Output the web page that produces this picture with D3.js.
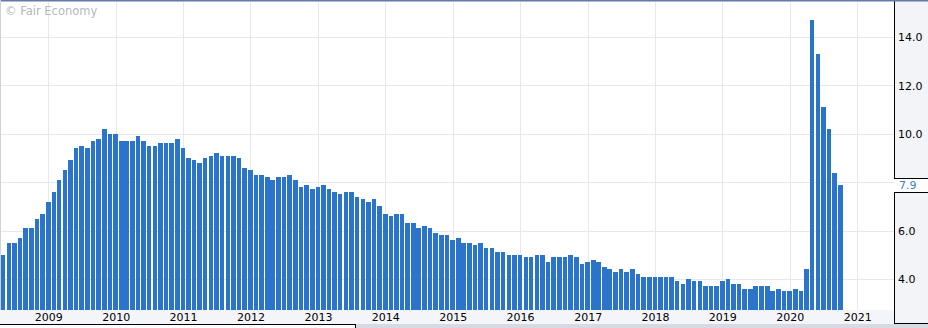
<!DOCTYPE html>
<html>
<head>
<meta charset="utf-8">
<script src="https://cdn.jsdelivr.net/npm/d3@7"></script>
<style>
  body { margin: 0; background: #fff; }
  svg { display: block; font-family: "DejaVu Sans", Verdana, sans-serif; }
</style>
</head>
<body>
<div id="chart"></div>
<script>
// first release month of the series (April 2008 figure, released in May 2008)
const firstRelease = "2008-05"
// unemployment rate, one bar per monthly release
const rates = [
  5.0, 5.5, 5.5, 5.7, 6.1, 6.1, 6.5, 6.7, 7.2,
  7.6, 8.1, 8.5, 8.9, 9.4, 9.5, 9.4, 9.7, 9.8, 10.2, 10.0, 10.0,
  9.7, 9.7, 9.7, 9.9, 9.7, 9.5, 9.5, 9.6, 9.6, 9.6, 9.8, 9.4,
  9.0, 8.9, 8.8, 9.0, 9.1, 9.2, 9.1, 9.1, 9.1, 9.0, 8.6, 8.5,
  8.3, 8.3, 8.2, 8.1, 8.2, 8.2, 8.3, 8.1, 7.8, 7.9, 7.7, 7.8,
  7.9, 7.7, 7.6, 7.5, 7.6, 7.6, 7.4, 7.3, 7.2, 7.3, 7.0, 6.7,
  6.6, 6.7, 6.7, 6.3, 6.3, 6.1, 6.2, 6.1, 5.9, 5.8, 5.8, 5.6,
  5.7, 5.5, 5.5, 5.4, 5.5, 5.3, 5.3, 5.1, 5.1, 5.0, 5.0, 5.0,
  4.9, 4.9, 5.0, 5.0, 4.7, 4.9, 4.9, 4.9, 5.0, 4.9, 4.6, 4.7,
  4.8, 4.7, 4.5, 4.4, 4.3, 4.4, 4.3, 4.4, 4.2, 4.1, 4.1, 4.1,
  4.1, 4.1, 4.1, 3.9, 3.8, 4.0, 3.9, 3.9, 3.7, 3.7, 3.7, 3.9,
  4.0, 3.8, 3.8, 3.6, 3.6, 3.7, 3.7, 3.7, 3.5, 3.6, 3.5, 3.5,
  3.6, 3.5, 4.4, 14.7, 13.3, 11.1, 10.2, 8.4, 7.9
]
const yearTicks = [2009, 2010, 2011, 2012, 2013, 2014, 2015, 2016, 2017, 2018, 2019, 2020, 2021]
const yTicks = [4, 6, 8, 10, 12, 14]

const width = 928, height = 328
const plotRight = 894, plotTop = 2, plotBottom = 310
const barColor = "#2b74cc"
const gridColor = "#e6e8f0"

const start = d3.timeParse("%Y-%m")(firstRelease)
const data = rates.map((v, i) => ({ date: d3.timeMonth.offset(start, i), value: v }))
const last = data[data.length - 1]

const x = d3.scaleTime()
  .domain([new Date(2009, 0, 1), new Date(2021, 0, 1)])
  .range([48.3, 857.3])
const y = d3.scaleLinear().domain([4, 14]).range([279, 37])
const tagY = y(last.value)

const svg = d3.select("#chart").append("svg").attr("width", width).attr("height", height)

// backgrounds
svg.append("rect").attr("width", width).attr("height", height).attr("fill", "#fff")
svg.append("rect").attr("x", 0).attr("y", plotBottom).attr("width", plotRight).attr("height", 14).attr("fill", "#f4f5f9")
svg.append("rect").attr("x", plotRight).attr("y", 0).attr("width", width - plotRight).attr("height", 324).attr("fill", "#f3f4f8")
svg.append("rect").attr("x", 0).attr("y", 324).attr("width", width).attr("height", 4).attr("fill", "#d6dae2")
svg.append("rect").attr("x", 0).attr("y", 324).attr("width", 355).attr("height", 4).attr("fill", "#fff")

// gridlines
const grid = svg.append("g").attr("shape-rendering", "crispEdges")
grid.selectAll(".gy").data(yTicks).join("line")
  .attr("x1", 0).attr("x2", plotRight)
  .attr("y1", d => Math.round(y(d)) + 0.5).attr("y2", d => Math.round(y(d)) + 0.5)
  .attr("stroke", gridColor)
grid.selectAll(".gx").data(yearTicks).join("line")
  .attr("x1", d => Math.round(x(new Date(d, 0, 1))) + 0.5)
  .attr("x2", d => Math.round(x(new Date(d, 0, 1))) + 0.5)
  .attr("y1", plotTop).attr("y2", plotBottom)
  .attr("stroke", gridColor)

// bars
svg.append("g").attr("shape-rendering", "crispEdges")
  .selectAll("rect").data(data).join("rect")
  .attr("x", d => x(d.date) - 2.3)
  .attr("width", 4.6)
  .attr("y", d => y(d.value))
  .attr("height", d => plotBottom - y(d.value))
  .attr("fill", barColor)

// x axis labels
const xAxis = d3.axisBottom(x)
  .tickValues(yearTicks.map(d => new Date(d, 0, 1)))
  .tickFormat(d3.timeFormat("%Y"))
  .tickSize(0).tickPadding(0)
const gx = svg.append("g").attr("transform", `translate(0,${plotBottom})`).call(xAxis)
gx.select(".domain").remove()
gx.selectAll("text").attr("dy", null).attr("y", 11).attr("fill", "#000")
  .style("font-size", "11px").style("font-family", "DejaVu Sans, Verdana, sans-serif")

// y axis on the right (labels hidden where the last-value tag sits)
const yAxis = d3.axisRight(y)
  .tickValues(yTicks.filter(d => Math.abs(y(d) - tagY) > 12))
  .tickFormat(d3.format(".1f")).tickSize(0).tickPadding(4)
const gy = svg.append("g").attr("transform", `translate(${plotRight},0)`).call(yAxis)
gy.select(".domain").remove()
gy.selectAll("text").attr("fill", "#000").attr("dy", "0.36em")
  .style("font-size", "11px").style("font-family", "DejaVu Sans, Verdana, sans-serif")

// last value tag
const frame = svg.append("g").attr("shape-rendering", "crispEdges").attr("stroke", "#000")
frame.append("rect").attr("x", plotRight).attr("y", tagY - 7).attr("width", width - plotRight).attr("height", 14)
  .attr("fill", "#fff").attr("stroke", "none")
frame.append("line").attr("x1", plotRight + 0.5).attr("x2", plotRight + 0.5).attr("y1", 0).attr("y2", Math.round(tagY - 7))
frame.append("line").attr("x1", plotRight + 0.5).attr("x2", plotRight + 0.5).attr("y1", Math.round(tagY + 7)).attr("y2", 324)
frame.append("line").attr("x1", plotRight).attr("x2", width).attr("y1", Math.round(tagY - 7) + 0.5).attr("y2", Math.round(tagY - 7) + 0.5)
frame.append("line").attr("x1", plotRight).attr("x2", width).attr("y1", Math.round(tagY + 7) + 0.5).attr("y2", Math.round(tagY + 7) + 0.5)
frame.append("line").attr("x1", plotRight).attr("x2", width).attr("y1", 323.5).attr("y2", 323.5)
frame.append("line").attr("x1", 0).attr("x2", 355).attr("y1", 324.5).attr("y2", 324.5)
frame.append("line").attr("x1", 355.5).attr("x2", 355.5).attr("y1", 324).attr("y2", 328)
svg.append("text").attr("x", plotRight + 5).attr("y", tagY).attr("dy", "0.36em")
  .attr("fill", "#3a7fd5").style("font-size", "11px")
  .text(d3.format(".1f")(last.value))

// borders
svg.append("rect").attr("x", 0).attr("y", 0).attr("width", width).attr("height", 1.5).attr("fill", "#6677aa")
svg.append("rect").attr("x", 0).attr("y", 0).attr("width", 1).attr("height", plotBottom).attr("fill", "#ccd3df")

// watermark
svg.append("text").attr("x", 5).attr("y", 15).attr("fill", "#b4b8c0")
  .style("font-size", "11.5px").text("© Fair Economy")
</script>
</body>
</html>
